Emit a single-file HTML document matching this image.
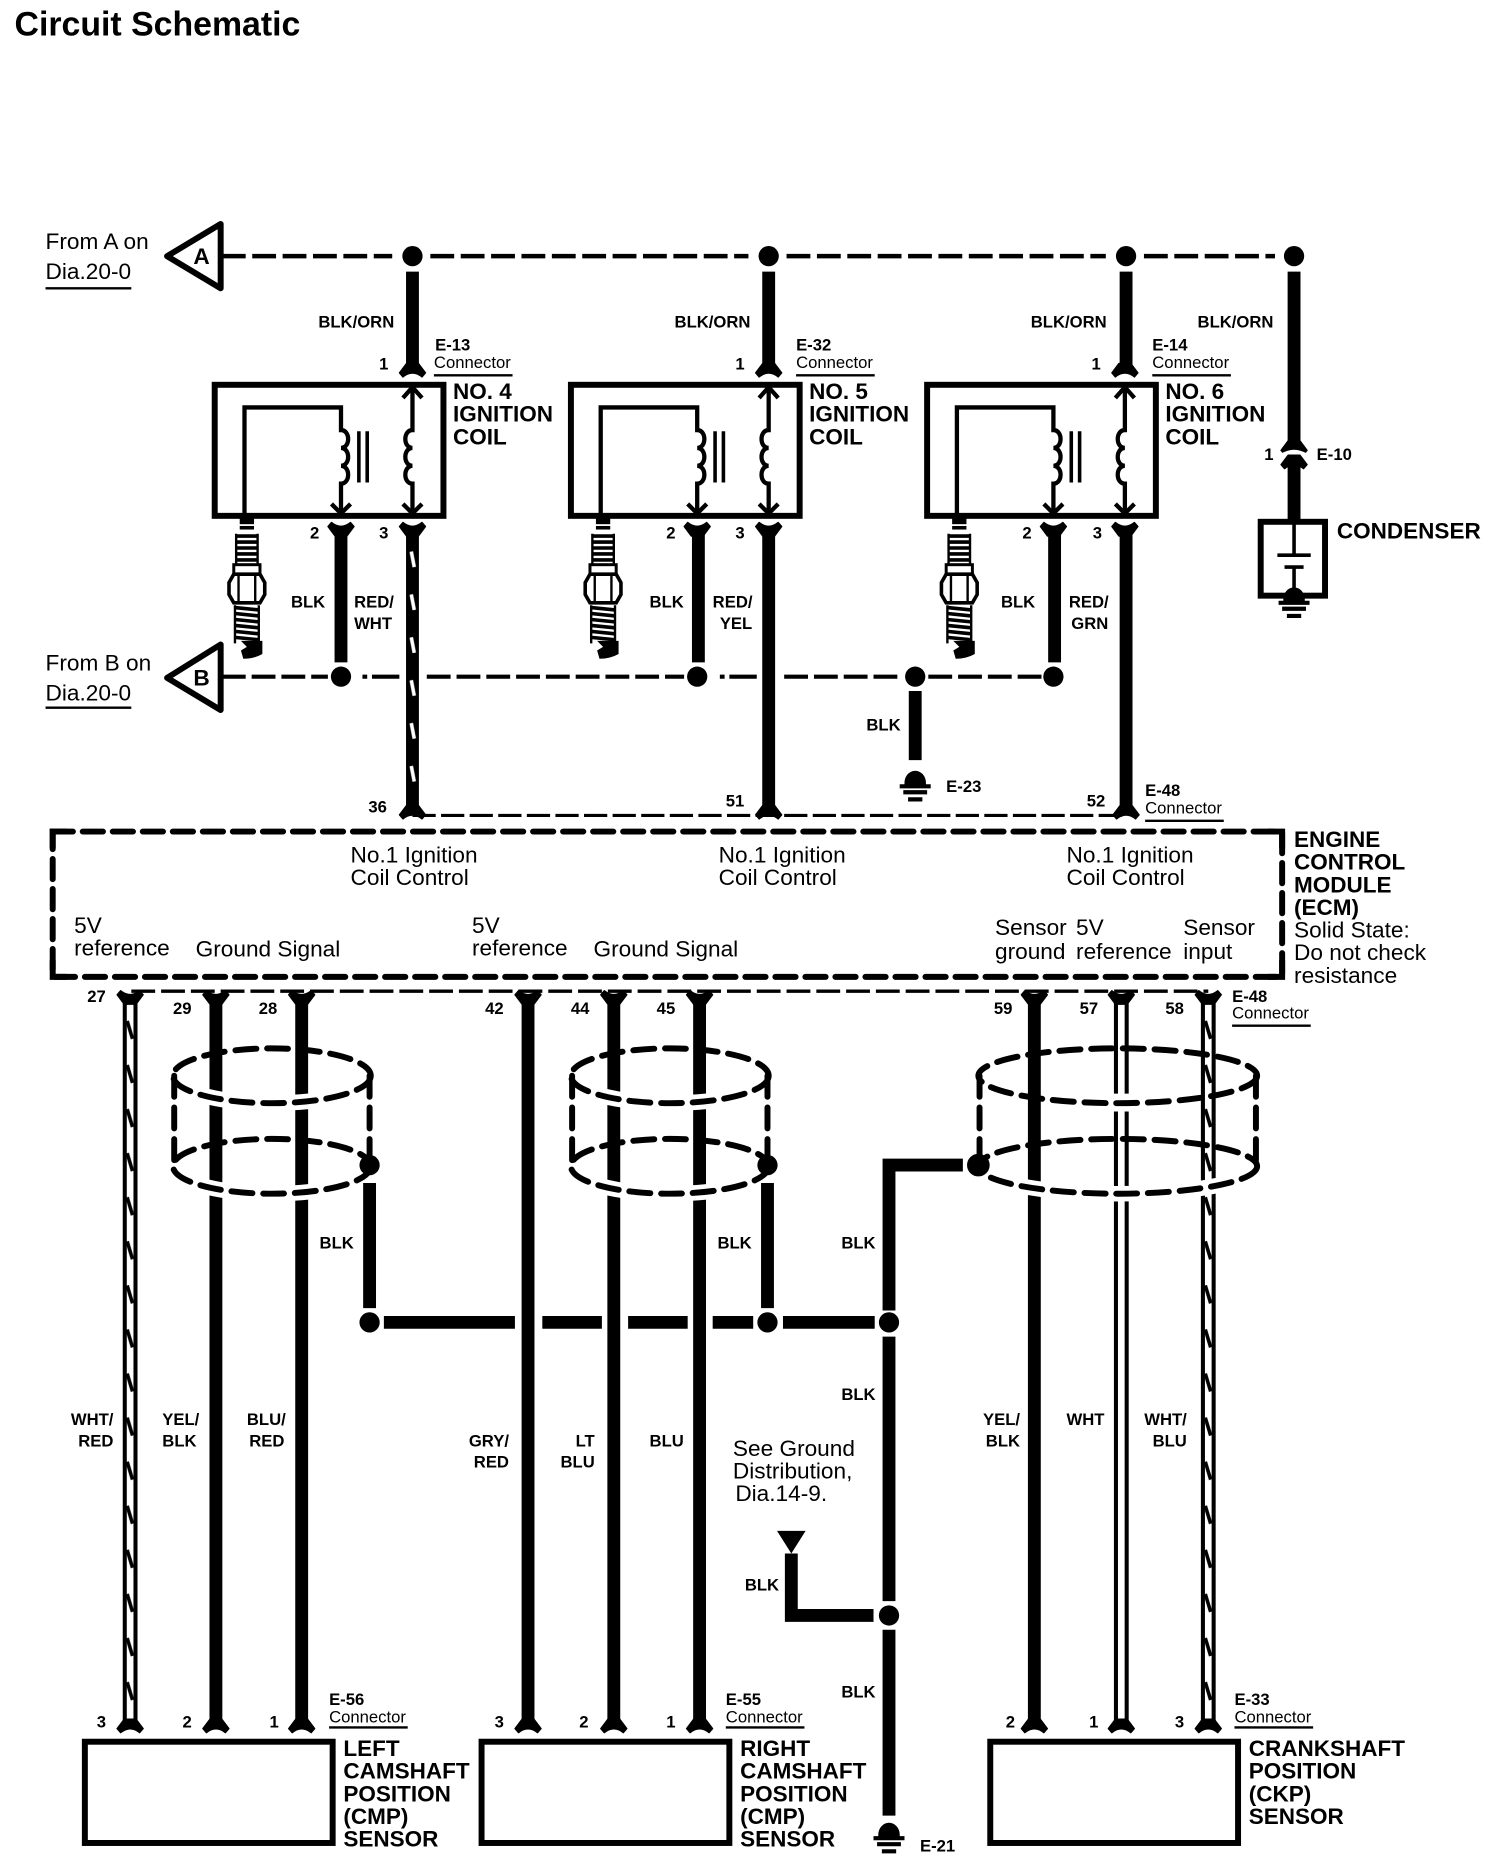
<!DOCTYPE html>
<html><head><meta charset="utf-8"><style>
html,body{margin:0;padding:0;background:#fff}
svg{display:block}
text{font-family:"Liberation Sans",sans-serif;fill:#000}
.b{font-weight:bold;font-size:14px}
.h{font-weight:bold;font-size:18.9px}
.r{font-size:19px}
.c{font-size:14px}
.w{stroke:#000;stroke-width:10.8;fill:none}
.n{stroke:#000;stroke-width:3;fill:none}
.u{stroke:#000;stroke-width:2;fill:none}
.d{fill:#000}
.s{fill:none;stroke:#000;stroke-width:5;stroke-dasharray:17.6 9;stroke-linecap:round}
</style></head><body>
<svg xmlns="http://www.w3.org/2000/svg" width="1504" height="1868" viewBox="0 0 1262 1568">
<defs>
<path id="fd" d="M-11,3 L-5,-5 L5,-5 L11,3 L8,6.5 Q0,0 -8,6.5 Z" fill="#000" stroke="#000" stroke-width="1" stroke-linejoin="round"/>
<path id="fu" d="M-11,-3 L-5,5 L5,5 L11,-3 L8,-6.5 Q0,0 -8,-6.5 Z" fill="#000" stroke="#000" stroke-width="1" stroke-linejoin="round"/>
<pattern id="p1" width="12" height="36" patternUnits="userSpaceOnUse" x="340" y="461">
<path d="M5,2 L7.5,15" stroke="#fff" stroke-width="3"/>
</pattern>
<pattern id="p2" width="12" height="37" patternUnits="userSpaceOnUse" x="103" y="855">
<path d="M3.5,2 L8,17" stroke="#000" stroke-width="3"/>
</pattern>
<pattern id="p3" width="12" height="37" patternUnits="userSpaceOnUse" x="1008" y="855">
<path d="M3.5,2 L8,17" stroke="#000" stroke-width="3"/>
</pattern>
<g id="coil">
<path class="n" style="stroke-width:3.6" d="M205,433 V342 H286 V361 C294,361 294,376 286,376 C294,376 294,391 286,391 C294,391 294,406 286,406 V431"/>
<path class="n" style="stroke-width:3.6" d="M346,325 V361 C338,361 338,376 346,376 C338,376 338,391 346,391 C338,391 338,406 346,406 V431"/>
<path class="n" d="M301,362 V405 M308,362 V405"/>
<path class="n" style="stroke-width:3.6" d="M338,334 L346,325 L354,334 M338,423 L346,431 L354,423 M278,423 L286,431 L294,423"/>
<rect x="180" y="323" width="192" height="110" fill="none" stroke="#000" stroke-width="5"/>
<use href="#fd" x="346" y="310"/><use href="#fu" x="286" y="445"/><use href="#fu" x="346" y="445"/>
<g transform="translate(207,0)" fill="#000">
<rect x="-6" y="435" width="12" height="5"/>
<path d="M-6,443 H6" stroke="#000" stroke-width="3"/>
<path d="M-9,450 H9 M-9,455 H9 M-9,460 H9 M-9,465 H9 M-9,470 H9" stroke="#000" stroke-width="3"/>
<path d="M-9,448 V474 M9,448 V474" stroke="#000" stroke-width="2"/>
<rect x="-11" y="474" width="22" height="8" fill="#fff" stroke="#000" stroke-width="2.5"/>
<path d="M-11,482 H11 L15,489 V499 L11,506 H-11 L-15,499 V489 Z" fill="#fff" stroke="#000" stroke-width="3"/>
<path d="M-7,482 V506 M7,482 V506" stroke="#000" stroke-width="2"/>
<path d="M-10,510 L10,512 M-10,515 L10,517 M-10,520 L10,522 M-10,525 L10,527 M-10,530 L10,532 M-10,535 L10,537" stroke="#000" stroke-width="3"/>
<path d="M-10,508 V540 M10,508 V540" stroke="#000" stroke-width="2"/>
<path d="M-5,538 H13 V549 Q6,553 -3,553 L-5,546 L0,543 Z"/>
</g>
</g>
<g id="gnd">
<path class="d" d="M-9,0 A9,10 0 0 1 9,0 V3 H-9 Z"/>
<path d="M-13,3 H13 M-10,8 H10 M-6,14 H6" stroke="#000" stroke-width="3.5"/>
</g>
<g id="shield">
<path d="M0,23 A83,23 0 0 0 166,23" fill="none" stroke="#fff" stroke-width="13"/>
<path d="M0,99 A83,23 0 0 0 166,99" fill="none" stroke="#fff" stroke-width="13"/>
<ellipse class="s" cx="83" cy="23" rx="83" ry="23"/>
<ellipse class="s" cx="83" cy="99" rx="83" ry="23"/>
<path class="s" d="M1,23 V99 M165,23 V99"/>
</g>
</defs>

<text x="12" y="30" font-size="28.4" font-weight="bold">Circuit Schematic</text>

<!-- A rail -->
<path d="M186,215 H329 M361,215 H628 M660,215 H928 M960,215 H1070" stroke="#000" stroke-width="3.8" stroke-dasharray="20 5.5" fill="none"/>
<polygon points="140,215 185,188 185,242" fill="#fff" stroke="#000" stroke-width="5" stroke-linejoin="round"/>
<text x="169" y="221.5" text-anchor="middle" class="h" style="font-size:19px">A</text>
<circle class="d" cx="346" cy="215" r="8.5"/><circle class="d" cx="645" cy="215" r="8.5"/><circle class="d" cx="945" cy="215" r="8.5"/><circle class="d" cx="1086" cy="215" r="8.5"/>
<path class="w" d="M346,228 V306 M645,228 V306 M945,228 V306 M1086,228 V371 M1086,385 V438"/>

<!-- coils -->
<use href="#coil"/><use href="#coil" x="299"/><use href="#coil" x="598"/>

<!-- condenser -->
<use href="#fd" x="1086" y="375"/>
<path d="M1076,382 Q1086,376 1096,382" stroke="#fff" stroke-width="3" fill="none"/>
<use href="#fd" x="1086" y="387"/>
<rect x="1058" y="438" width="54" height="62" fill="none" stroke="#000" stroke-width="5"/>
<path class="n" d="M1086,438 V465 M1072,466 H1100 M1078,476 H1094 M1086,476 V496"/>
<use href="#gnd" x="1086" y="503"/>

<!-- B rail -->
<path d="M186,568 H275 M358,568 H574 M658,568 H758 M779,568 H874" stroke="#000" stroke-width="3.4" stroke-dasharray="20 5" fill="none"/>
<path d="M304,568 h4 M312,568 H335 M604,568 h4 M612,568 H635" stroke="#000" stroke-width="3.4" fill="none"/>
<polygon points="140,569 185,541 185,596" fill="#fff" stroke="#000" stroke-width="5" stroke-linejoin="round"/>
<text x="169" y="575.5" text-anchor="middle" class="h" style="font-size:19px">B</text>
<path class="w" d="M286,442 V556 M586,442 V556 M885,442 V556 M346,442 V680 M645,442 V680 M945,442 V680 M768,580 V638"/>
<rect x="340" y="452" width="12" height="228" fill="url(#p1)"/>
<circle class="d" cx="286" cy="568" r="8.5"/><circle class="d" cx="585" cy="568" r="8.5"/><circle class="d" cx="768" cy="568" r="8.5"/><circle class="d" cx="884" cy="568" r="8.5"/>
<use href="#gnd" x="768" y="657"/>

<!-- ECM -->
<path d="M346,684.5 H945" stroke="#000" stroke-width="2.6" stroke-dasharray="19.5 4.5" fill="none"/>
<use href="#fd" x="346" y="681"/><use href="#fd" x="645" y="681"/><use href="#fd" x="945" y="681"/>
<rect x="44" y="698" width="1032" height="122" fill="none" stroke="#000" stroke-width="5" stroke-dasharray="17 8.2" stroke-linecap="round"/>
<path d="M44,712 V698 H56 M1064,698 H1076 V712 M1076,806 V820 H1064 M56,820 H44 V806" fill="none" stroke="#000" stroke-width="5"/>
<path d="M110,832 H1014" stroke="#000" stroke-width="2.8" stroke-dasharray="20 5" fill="none"/>

<!-- lower wires -->
<path class="w" d="M181,836 V1450 M253,836 V1450 M443,836 V1450 M515,836 V1450 M587,836 V1450 M868,836 V1450"/>
<path d="M109,836 V1450 M941,836 V1450 M1014,836 V1450" stroke="#000" stroke-width="12.4" fill="none"/>
<path d="M109,838 V1450 M941,838 V1448 M1014,838 V1450" stroke="#fff" stroke-width="5.6" fill="none"/>
<rect x="103" y="850" width="12" height="600" fill="url(#p2)"/>
<rect x="1008" y="850" width="12" height="600" fill="url(#p3)"/>
<g>
<use href="#fu" x="109" y="838"/><use href="#fu" x="181" y="838"/><use href="#fu" x="253" y="838"/><use href="#fu" x="443" y="838"/><use href="#fu" x="515" y="838"/><use href="#fu" x="587" y="838"/><use href="#fu" x="868" y="838"/><use href="#fu" x="941" y="838"/><use href="#fu" x="1014" y="838"/>
<use href="#fd" x="109" y="1448"/><use href="#fd" x="181" y="1448"/><use href="#fd" x="253" y="1448"/><use href="#fd" x="443" y="1448"/><use href="#fd" x="515" y="1448"/><use href="#fd" x="587" y="1448"/><use href="#fd" x="868" y="1448"/><use href="#fd" x="941" y="1448"/><use href="#fd" x="1014" y="1448"/>
</g>

<!-- shields -->
<use href="#shield" x="145" y="880"/>
<use href="#shield" x="479" y="880"/>
<rect x="933" y="918" width="16" height="15" fill="#fff"/>
<path d="M821,979 A117,23 0 0 0 1055,979" fill="none" stroke="#fff" stroke-width="13"/>
<ellipse class="s" cx="938" cy="903" rx="117" ry="23"/>
<ellipse class="s" cx="938" cy="979" rx="117" ry="23"/>
<path class="s" d="M822,903 V979 M1054,903 V979"/>

<!-- ground net -->
<path class="w" d="M310,993 V1098 M644,993 V1098 M746,1100 V978 H808 M746,1122 V1344 M746,1368 V1524 M733,1356 H664 V1304 M322,1110 H432 M455,1110 H505 M527,1110 H577 M598,1110 H632 M657,1110 H734"/>
<polygon class="d" points="652,1285 676,1285 664,1304"/>
<circle class="d" cx="310" cy="978" r="8.5"/><circle class="d" cx="644" cy="978" r="8.5"/><circle class="d" cx="821" cy="978" r="9.5"/>
<circle class="d" cx="310" cy="1110" r="8.5"/><circle class="d" cx="644" cy="1110" r="8.5"/><circle class="d" cx="746" cy="1110" r="8.5"/><circle class="d" cx="746" cy="1356" r="8.5"/>
<use href="#gnd" x="746" y="1540"/>

<!-- sensor boxes -->
<rect x="71" y="1462" width="208" height="85" fill="none" stroke="#000" stroke-width="5"/>
<rect x="404" y="1462" width="208" height="85" fill="none" stroke="#000" stroke-width="5"/>
<rect x="831" y="1462" width="208" height="85" fill="none" stroke="#000" stroke-width="5"/>

<!-- underlines -->
<path class="u" d="M38,242 H110 M38,594 H110 M364,315 H430 M668,315 H734 M967,315 H1033 M961,689 H1027 M1034,861 H1100 M276,1450 H342 M609,1450 H675 M1036,1450 H1102"/>

<!-- text -->
<g class="r">
<text class="r" x="38" y="209">From A on</text><text class="r" x="38" y="234">Dia.20-0</text>
<text class="r" x="38" y="563">From B on</text><text class="r" x="38" y="588">Dia.20-0</text>
<text class="r" x="294" y="724">No.1 Ignition</text><text class="r" x="294" y="743">Coil Control</text>
<text class="r" x="603" y="724">No.1 Ignition</text><text class="r" x="603" y="743">Coil Control</text>
<text class="r" x="895" y="724">No.1 Ignition</text><text class="r" x="895" y="743">Coil Control</text>
<text class="r" x="62" y="783">5V</text><text class="r" x="62" y="802">reference</text><text class="r" x="164" y="803">Ground Signal</text>
<text class="r" x="396" y="783">5V</text><text class="r" x="396" y="802">reference</text><text class="r" x="498" y="803">Ground Signal</text>
<text class="r" x="835" y="785">Sensor</text><text class="r" x="835" y="805">ground</text>
<text class="r" x="903" y="785">5V</text><text class="r" x="903" y="805">reference</text>
<text class="r" x="993" y="785">Sensor</text><text class="r" x="993" y="805">input</text>
<text class="r" x="1086" y="787">Solid State:</text><text class="r" x="1086" y="806">Do not check</text><text class="r" x="1086" y="825">resistance</text>
<text class="r" x="615" y="1222">See Ground</text><text class="r" x="615" y="1241">Distribution,</text><text class="r" x="617" y="1260">Dia.14-9.</text>
</g>

<text class="h" x="380" y="335">NO. 4</text><text class="h" x="380" y="354">IGNITION</text><text class="h" x="380" y="373">COIL</text>
<text class="h" x="679" y="335">NO. 5</text><text class="h" x="679" y="354">IGNITION</text><text class="h" x="679" y="373">COIL</text>
<text class="h" x="978" y="335">NO. 6</text><text class="h" x="978" y="354">IGNITION</text><text class="h" x="978" y="373">COIL</text>
<text class="h" x="1122" y="452">CONDENSER</text>
<text class="h" x="1086" y="711">ENGINE</text><text class="h" x="1086" y="730">CONTROL</text><text class="h" x="1086" y="749">MODULE</text><text class="h" x="1086" y="768">(ECM)</text>
<text class="h" x="288" y="1474">LEFT</text><text class="h" x="288" y="1493">CAMSHAFT</text><text class="h" x="288" y="1512">POSITION</text><text class="h" x="288" y="1531">(CMP)</text><text class="h" x="288" y="1550">SENSOR</text>
<text class="h" x="621" y="1474">RIGHT</text><text class="h" x="621" y="1493">CAMSHAFT</text><text class="h" x="621" y="1512">POSITION</text><text class="h" x="621" y="1531">(CMP)</text><text class="h" x="621" y="1550">SENSOR</text>
<text class="h" x="1048" y="1474">CRANKSHAFT</text><text class="h" x="1048" y="1493">POSITION</text><text class="h" x="1048" y="1512">(CKP)</text><text class="h" x="1048" y="1531">SENSOR</text>

<text class="b" x="267" y="275">BLK/ORN</text><text class="b" x="566" y="275">BLK/ORN</text><text class="b" x="865" y="275">BLK/ORN</text><text class="b" x="1005" y="275">BLK/ORN</text>
<text class="b" x="318" y="310">1</text><text class="b" x="617" y="310">1</text><text class="b" x="916" y="310">1</text><text class="b" x="1061" y="386">1</text>
<text class="b" x="365" y="294">E-13</text><text class="b" x="668" y="294">E-32</text><text class="b" x="967" y="294">E-14</text><text class="b" x="1105" y="386">E-10</text>
<text class="c" x="364" y="309">Connector</text><text class="c" x="668" y="309">Connector</text><text class="c" x="967" y="309">Connector</text>
<text class="b" x="260" y="452">2</text><text class="b" x="318" y="452">3</text><text class="b" x="559" y="452">2</text><text class="b" x="617" y="452">3</text><text class="b" x="858" y="452">2</text><text class="b" x="917" y="452">3</text>
<text class="b" x="244" y="510">BLK</text><text class="b" x="297" y="510">RED/</text><text class="b" x="297" y="528">WHT</text>
<text class="b" x="545" y="510">BLK</text><text class="b" x="598" y="510">RED/</text><text class="b" x="604" y="528">YEL</text>
<text class="b" x="840" y="510">BLK</text><text class="b" x="897" y="510">RED/</text><text class="b" x="899" y="528">GRN</text>
<text class="b" x="727" y="613">BLK</text><text class="b" x="794" y="665">E-23</text>
<text class="b" x="309" y="682">36</text><text class="b" x="609" y="677">51</text><text class="b" x="912" y="677">52</text>
<text class="b" x="961" y="668">E-48</text><text class="c" x="961" y="683">Connector</text>
<text class="b" x="73" y="841">27</text><text class="b" x="145" y="851">29</text><text class="b" x="217" y="851">28</text><text class="b" x="407" y="851">42</text><text class="b" x="479" y="851">44</text><text class="b" x="551" y="851">45</text><text class="b" x="834" y="851">59</text><text class="b" x="906" y="851">57</text><text class="b" x="978" y="851">58</text>
<text class="b" x="1034" y="841">E-48</text><text class="c" x="1034" y="855">Connector</text>
<text class="b" x="268" y="1048">BLK</text><text class="b" x="602" y="1048">BLK</text><text class="b" x="706" y="1048">BLK</text><text class="b" x="706" y="1175">BLK</text>
<text class="b" x="625" y="1335">BLK</text><text class="b" x="706" y="1425">BLK</text>
<text class="b" x="95" y="1196" text-anchor="end">WHT/</text><text class="b" x="95" y="1214" text-anchor="end">RED</text>
<text class="b" x="136" y="1196">YEL/</text><text class="b" x="136" y="1214">BLK</text>
<text class="b" x="207" y="1196">BLU/</text><text class="b" x="209" y="1214">RED</text>
<text class="b" x="427" y="1214" text-anchor="end">GRY/</text><text class="b" x="427" y="1232" text-anchor="end">RED</text>
<text class="b" x="499" y="1214" text-anchor="end">LT</text><text class="b" x="499" y="1232" text-anchor="end">BLU</text>
<text class="b" x="545" y="1214">BLU</text>
<text class="b" x="856" y="1196" text-anchor="end">YEL/</text><text class="b" x="856" y="1214" text-anchor="end">BLK</text>
<text class="b" x="895" y="1196">WHT</text>
<text class="b" x="996" y="1196" text-anchor="end">WHT/</text><text class="b" x="996" y="1214" text-anchor="end">BLU</text>
<text class="b" x="276" y="1431">E-56</text><text class="c" x="276" y="1446">Connector</text>
<text class="b" x="609" y="1431">E-55</text><text class="c" x="609" y="1446">Connector</text>
<text class="b" x="1036" y="1431">E-33</text><text class="c" x="1036" y="1446">Connector</text>
<text class="b" x="81" y="1450">3</text><text class="b" x="153" y="1450">2</text><text class="b" x="226" y="1450">1</text>
<text class="b" x="415" y="1450">3</text><text class="b" x="486" y="1450">2</text><text class="b" x="559" y="1450">1</text>
<text class="b" x="844" y="1450">2</text><text class="b" x="914" y="1450">1</text><text class="b" x="986" y="1450">3</text>
<text class="b" x="772" y="1554">E-21</text>
</svg>
</body></html>
